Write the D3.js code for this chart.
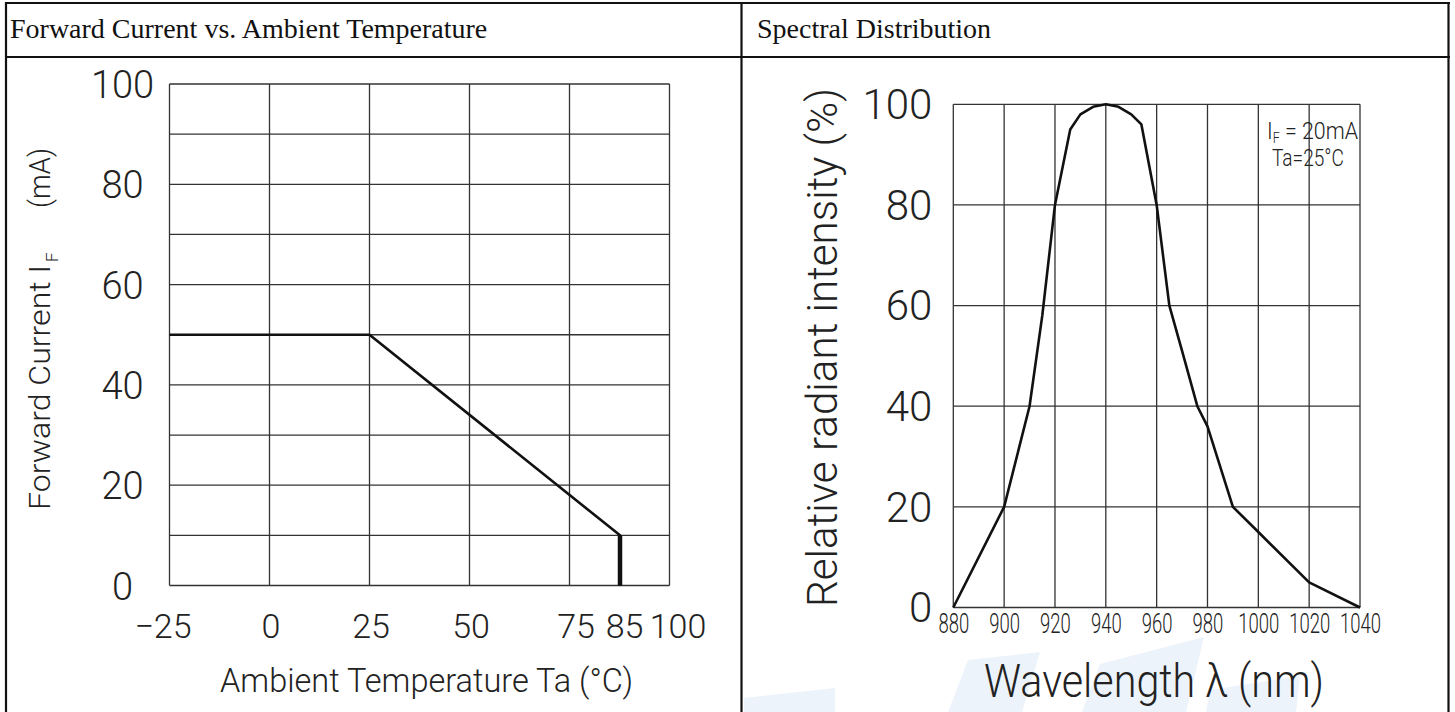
<!DOCTYPE html>
<html>
<head>
<meta charset="utf-8">
<script src="https://cdn.jsdelivr.net/npm/d3@7"></script>
<style>
  html, body { margin: 0; padding: 0; background: #fff; }
  svg { display: block; }
  .cad { font-family: Roboto, "DejaVu Sans", sans-serif; font-weight: 300; fill: #222; }
  .ttl { font-family: "Liberation Serif", "Times New Roman", serif; fill: #111; }
</style>
</head>
<body>
<svg id="chart" width="1455" height="712"></svg>
<script>
// --- derating chart data
const tempX = [-25, 25, 85, 85];
const currentY = [50, 50, 10, 0];
const tempTicks = [-25, 0, 25, 50, 75, 85, 100];
const tempGrid = [-25, 0, 25, 50, 75, 100];
const currentTicks = [0, 20, 40, 60, 80, 100];
const currentGrid = [0, 10, 20, 30, 40, 50, 60, 70, 80, 90, 100];

// --- spectral chart data
const wavelength = [880, 900, 910, 915, 920, 926, 930, 935, 940, 945, 950, 954, 960, 965, 970, 976, 980, 990, 1000, 1020, 1040];
const intensity  = [0,   20,  40,  58,  80,  95,  98,  99.5, 100, 99.5, 98, 96,  80,  60,  51,  40,  36,  20,  15,   5,    0];
const waveTicks = [880, 900, 920, 940, 960, 980, 1000, 1020, 1040];
const intensityTicks = [0, 20, 40, 60, 80, 100];

const svg = d3.select('#chart');
const GRID = '#333';

// faint watermark behind everything (bottom of right panel)
const wm = svg.append('g').attr('fill', '#edf3fb');
[
  [[744, 698], [835, 688], [835, 712], [744, 712]],
  [[968, 660], [1040, 652], [1022, 712], [948, 712]],
  [[1100, 664], [1204, 637], [1186, 712], [1082, 712]],
  [[1210, 690], [1300, 676], [1296, 712], [1206, 712]]
].forEach(p => wm.append('polygon').attr('points', p.map(d => d.join(',')).join(' ')));

// table frame
const frame = svg.append('g').attr('stroke', '#111').attr('stroke-width', 2.2).attr('fill', 'none');
frame.append('line').attr('x1', 5).attr('x2', 1450).attr('y1', 3).attr('y2', 3);
frame.append('line').attr('x1', 5).attr('x2', 1450).attr('y1', 57).attr('y2', 57);
frame.append('line').attr('x1', 6).attr('x2', 6).attr('y1', 2).attr('y2', 712);
frame.append('line').attr('x1', 741.5).attr('x2', 741.5).attr('y1', 2).attr('y2', 712);
frame.append('line').attr('x1', 1448.5).attr('x2', 1448.5).attr('y1', 2).attr('y2', 712);

svg.append('text').attr('class', 'ttl').attr('x', 10).attr('y', 38).attr('font-size', 28)
  .text('Forward Current vs. Ambient Temperature');
svg.append('text').attr('class', 'ttl').attr('x', 757).attr('y', 38).attr('font-size', 28)
  .text('Spectral Distribution');

// ================= LEFT: Forward current vs ambient temperature
const xT = d3.scaleLinear().domain([-25, 75, 85, 100]).range([169.5, 569.5, 620, 669.5]);
const yC = d3.scaleLinear().domain([0, 100]).range([585.5, 84]);

const gL = svg.append('g');
gL.append('g').selectAll('line').data(tempGrid).join('line')
  .attr('x1', d => xT(d)).attr('x2', d => xT(d)).attr('y1', yC(0)).attr('y2', yC(100))
  .attr('stroke', GRID).attr('stroke-width', 1.3);
gL.append('g').selectAll('line').data(currentGrid).join('line')
  .attr('x1', xT(-25)).attr('x2', xT(100)).attr('y1', d => yC(d)).attr('y2', d => yC(d))
  .attr('stroke', GRID).attr('stroke-width', 1.3);

const axL = gL.append('g').attr('transform', `translate(${xT(-25)},0)`)
  .call(d3.axisLeft(yC).tickValues(currentTicks).tickSize(0).tickFormat(d3.format('d')));
axL.select('.domain').remove();
axL.selectAll('text').attr('class', 'cad').attr('font-size', 38)
  .attr('text-anchor', 'middle').attr('x', -47).attr('dy', '0.36em');

const axB = gL.append('g').attr('transform', `translate(0,${yC(0)})`)
  .call(d3.axisBottom(xT).tickValues(tempTicks).tickSize(0).tickFormat(d => d < 0 ? '\u2212' + Math.abs(d) : d));
axB.select('.domain').remove();
axB.selectAll('text').attr('class', 'cad').attr('font-size', 34)
  .attr('y', 52).attr('dy', 0)
  .attr('dx', d => d === -25 ? -7 : d === 75 ? 6 : d === 100 ? 8 : d === 85 ? 4 : 1);

const lineL = d3.line().x(d => xT(d[0])).y(d => yC(d[1]));
const pts = tempX.map((t, i) => [t, currentY[i]]);
gL.append('path').attr('d', lineL(pts)).attr('fill', 'none')
  .attr('stroke', '#111').attr('stroke-width', 2.6).attr('stroke-linejoin', 'round');
gL.append('path').attr('d', lineL(pts.slice(-2))).attr('fill', 'none')
  .attr('stroke', '#111').attr('stroke-width', 4.5);

// axis titles
const yl = gL.append('g').attr('transform', 'translate(50,510) rotate(-90)');
yl.append('text').attr('class', 'cad').attr('font-size', 30)
  .attr('textLength', 245).attr('lengthAdjust', 'spacingAndGlyphs').text('Forward Current I');
yl.append('text').attr('class', 'cad').attr('font-size', 17).attr('x', 248).attr('y', 8).text('F');
yl.append('text').attr('class', 'cad').attr('font-size', 30).attr('x', 302)
  .attr('textLength', 60).attr('lengthAdjust', 'spacingAndGlyphs').text('(mA)');

gL.append('text').attr('class', 'cad').attr('font-size', 34).attr('x', 220).attr('y', 692)
  .attr('textLength', 413).attr('lengthAdjust', 'spacingAndGlyphs')
  .text('Ambient Temperature Ta (\u00B0C)');

// ================= RIGHT: Spectral distribution
const xW = d3.scaleLinear().domain([880, 1040]).range([953.3, 1360]);
const yI = d3.scaleLinear().domain([0, 100]).range([607.5, 104.3]);

const gR = svg.append('g');
gR.append('g').selectAll('line').data(waveTicks).join('line')
  .attr('x1', d => xW(d)).attr('x2', d => xW(d)).attr('y1', yI(0)).attr('y2', yI(100))
  .attr('stroke', GRID).attr('stroke-width', 1.3);
gR.append('g').selectAll('line').data(intensityTicks).join('line')
  .attr('x1', xW(880)).attr('x2', xW(1040)).attr('y1', d => yI(d)).attr('y2', d => yI(d))
  .attr('stroke', GRID).attr('stroke-width', 1.3);

const axRL = gR.append('g').attr('transform', `translate(${xW(880)},0)`)
  .call(d3.axisLeft(yI).tickValues(intensityTicks).tickSize(0).tickPadding(21));
axRL.select('.domain').remove();
axRL.selectAll('text').attr('class', 'cad').attr('font-size', 42).attr('dy', '0.34em');

// narrow, squeezed wavelength labels
const axRB = gR.append('g').attr('transform', `translate(0,${yI(0)})`)
  .call(d3.axisBottom(xW).tickValues(waveTicks).tickSize(0).tickFormat(d3.format('d')));
axRB.select('.domain').remove();
axRB.selectAll('text').attr('class', 'cad').attr('font-size', 28)
  .attr('y', 25).attr('dy', 0).attr('transform', 'scale(0.66,1)');

const lineR = d3.line().x((d, i) => xW(wavelength[i])).y(d => yI(d));
gR.append('path').attr('d', lineR(intensity)).attr('fill', 'none')
  .attr('stroke', '#111').attr('stroke-width', 2.6).attr('stroke-linejoin', 'round');

// legend box text
const lg = gR.append('text').attr('class', 'cad').attr('font-size', 24).attr('x', 1267).attr('y', 139)
  .attr('textLength', 91).attr('lengthAdjust', 'spacingAndGlyphs');
lg.append('tspan').text('I');
lg.append('tspan').attr('font-size', 14).attr('dy', 4).text('F');
lg.append('tspan').attr('dy', -4).text(' = 20mA');
gR.append('text').attr('class', 'cad').attr('font-size', 24).attr('x', 1272).attr('y', 166)
  .attr('textLength', 72).attr('lengthAdjust', 'spacingAndGlyphs').text('Ta=25\u00B0C');

gR.append('text').attr('class', 'cad').attr('font-size', 42)
  .attr('transform', 'translate(837,607) rotate(-90)')
  .attr('textLength', 519).attr('lengthAdjust', 'spacingAndGlyphs')
  .text('Relative radiant intensity (%)');

gR.append('text').attr('class', 'cad').attr('font-size', 46).attr('x', 984).attr('y', 697)
  .attr('textLength', 340).attr('lengthAdjust', 'spacingAndGlyphs')
  .text('Wavelength \u03BB (nm)');
</script>
</body>
</html>
